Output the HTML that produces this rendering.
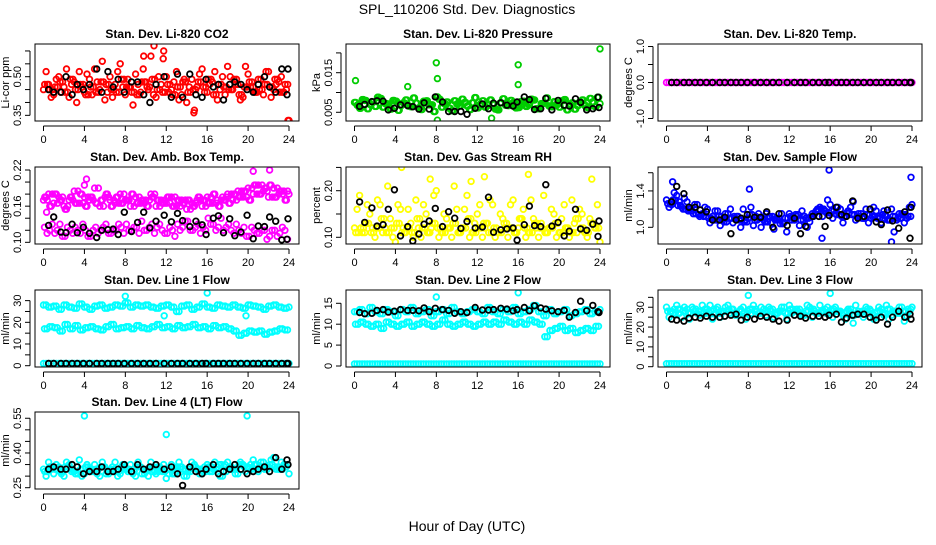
<!DOCTYPE html>
<html><head><meta charset="utf-8"><style>
html,body{margin:0;padding:0;background:#fff;}
svg text{font-family:"Liberation Sans",Arial,sans-serif;}
</style></head><body>
<svg id="chart" width="936" height="540" xmlns="http://www.w3.org/2000/svg">
<rect width="936" height="540" fill="#fff"/>
<text x="467" y="14" text-anchor="middle" font-size="14">SPL_110206  Std. Dev. Diagnostics</text>
<text x="467" y="531" text-anchor="middle" font-size="14">Hour of Day (UTC)</text>
</svg>
<script>
const blackHours=[0.5,1.0,1.7,2.2,2.8,3.3,3.9,4.5,5.2,5.7,6.3,6.8,7.3,7.9,8.6,9.2,9.8,10.4,11.0,11.8,12.5,13.1,13.6,14.3,14.9,15.5,15.9,16.6,17.1,17.6,18.2,18.7,19.3,19.9,20.5,21.0,21.6,22.1,22.7,23.3,23.8,23.9];
const xTicks=[0,4,8,12,16,20,24];
const co2A=[0.45,0.47,0.43,0.50,0.46,0.42,0.48,0.52,0.44,0.49,0.53,0.45,0.41,0.50,0.47,0.55,0.43,0.46,0.51,0.44,0.48,0.58,0.42,0.47,0.50,0.45,0.52,0.43,0.40,0.49,0.46,0.53,0.44,0.48,0.41,0.50,0.54,0.45,0.47,0.42,0.51,0.46,0.49,0.43,0.52,0.45,0.48,0.44,0.33];
const co2B=[0.52,0.42,0.49,0.44,0.53,0.47,0.40,0.46,0.51,0.43,0.48,0.56,0.44,0.42,0.52,0.46,0.49,0.39,0.47,0.53,0.45,0.43,0.50,0.60,0.44,0.48,0.41,0.49,0.46,0.37,0.51,0.44,0.47,0.52,0.45,0.43,0.50,0.47,0.41,0.54,0.46,0.44,0.49,0.52,0.42,0.47,0.50,0.45,0.47];
const co2C=[0.47,0.45,0.46,0.48,0.44,0.49,0.45,0.47,0.43,0.46,0.44,0.48,0.47,0.45,0.44,0.49,0.46,0.44,0.43,0.48,0.46,0.49,0.45,0.44,0.47,0.43,0.46,0.48,0.44,0.45,0.48,0.46,0.49,0.43,0.47,0.46,0.45,0.49,0.43,0.46,0.48,0.44,0.45,0.47,0.46,0.49,0.44,0.47,0.45];
const co2OutH=[9.8,10.8,11.7,14.7,23.9];
const co2Out=[0.58,0.62,0.57,0.36,0.33];
const co2K=[0.45,0.44,0.44,0.50,0.43,0.47,0.45,0.47,0.53,0.44,0.52,0.46,0.49,0.44,0.48,0.48,0.43,0.40,0.47,0.50,0.42,0.51,0.42,0.51,0.43,0.42,0.49,0.46,0.47,0.41,0.47,0.48,0.47,0.45,0.44,0.47,0.50,0.46,0.44,0.53,0.43,0.53];
const pA=[0.0075,0.006,0.008,0.007,0.0065,0.0085,0.0072,0.0058,0.0078,0.0068,0.0081,0.0064,0.0073,0.0057,0.0079,0.0069,0.0089,0.0063,0.0076,0.0054,0.0071,0.0083,0.0066,0.0074,0.0061,0.0079,0.0068,0.0072,0.0056,0.0084,0.0067,0.0075,0.0062,0.0078,0.0069,0.0081,0.0059,0.0073,0.0066,0.0077,0.0063,0.0082,0.0070,0.0058,0.0076,0.0067,0.0085,0.0064,0.0072];
const pB=[0.0068,0.0082,0.0059,0.0076,0.0088,0.0063,0.0071,0.0080,0.0055,0.0074,0.0066,0.0086,0.0061,0.0078,0.0069,0.0052,0.0083,0.0072,0.0060,0.0079,0.0066,0.0075,0.0057,0.0087,0.0070,0.0063,0.0081,0.0058,0.0074,0.0068,0.0080,0.0061,0.0077,0.0065,0.0083,0.0059,0.0072,0.0086,0.0064,0.0070,0.0079,0.0056,0.0074,0.0067,0.0081,0.0062,0.0076,0.0088,0.0069];
const pOutH=[0.1,5.2,8.0,8.1,8.1,16.0,16.0,24.0,13.4];
const pOut=[0.0130,0.0115,0.0175,0.0135,0.003,0.0170,0.0120,0.0210,0.0035];
const pK=[0.0065,0.0070,0.0077,0.0079,0.0078,0.0056,0.0060,0.0069,0.0067,0.0064,0.0058,0.0074,0.0058,0.0089,0.0076,0.0052,0.0052,0.0052,0.0045,0.0060,0.0071,0.0059,0.0073,0.0074,0.0068,0.0066,0.0076,0.0089,0.0082,0.0057,0.0059,0.0085,0.0056,0.0080,0.0068,0.0066,0.0084,0.0075,0.0056,0.0059,0.0088,0.0062];
const tA=[0,0,0,0,0,0,0,0,0,0,0,0,0,0,0,0,0,0,0,0,0,0,0,0,0,0,0,0,0,0,0,0,0,0,0,0,0,0,0,0,0,0,0,0,0,0,0,0,0];
const tK=[0,0,0,0,0,0,0,0,0,0,0,0,0,0,0,0,0,0,0,0,0,0,0,0,0,0,0,0,0,0,0,0,0,0,0,0,0,0,0,0,0,0];
const ambU=[0.17,0.18,0.165,0.175,0.16,0.17,0.185,0.165,0.175,0.17,0.19,0.16,0.175,0.17,0.165,0.18,0.17,0.16,0.175,0.165,0.17,0.18,0.16,0.17,0.165,0.175,0.16,0.17,0.155,0.165,0.17,0.16,0.175,0.165,0.17,0.175,0.18,0.17,0.185,0.175,0.19,0.18,0.195,0.185,0.175,0.19,0.18,0.185,0.18];
const ambU2=[0.175,0.16,0.18,0.17,0.155,0.175,0.165,0.18,0.16,0.175,0.165,0.17,0.18,0.16,0.175,0.165,0.17,0.18,0.165,0.17,0.16,0.175,0.17,0.165,0.175,0.16,0.17,0.165,0.17,0.16,0.175,0.17,0.165,0.18,0.16,0.17,0.165,0.18,0.175,0.185,0.17,0.195,0.18,0.19,0.195,0.175,0.185,0.17,0.19];
const ambL=[0.125,0.12,0.115,0.13,0.11,0.12,0.125,0.115,0.12,0.11,0.125,0.12,0.13,0.115,0.12,0.125,0.13,0.12,0.125,0.135,0.12,0.13,0.125,0.12,0.115,0.12,0.13,0.125,0.135,0.12,0.13,0.125,0.14,0.13,0.125,0.12,0.13,0.115,0.12,0.125,0.11,0.12,0.115,0.12,0.11,0.12,0.115,0.12,0.115];
const ambL2=[0.115,0.13,0.12,0.11,0.125,0.115,0.12,0.13,0.11,0.12,0.115,0.125,0.115,0.12,0.13,0.115,0.12,0.125,0.115,0.12,0.125,0.115,0.13,0.115,0.125,0.11,0.12,0.135,0.12,0.125,0.115,0.12,0.13,0.12,0.14,0.125,0.12,0.13,0.115,0.11,0.125,0.115,0.12,0.105,0.12,0.11,0.125,0.105,0.12];
const ambOutH=[4.2,20.5,22.1,4.0,0.3];
const ambOut=[0.205,0.218,0.22,0.195,0.15];
const ambK=[0.128,0.142,0.117,0.116,0.130,0.116,0.125,0.115,0.108,0.120,0.121,0.122,0.113,0.150,0.118,0.133,0.150,0.124,0.135,0.145,0.134,0.148,0.136,0.126,0.135,0.129,0.113,0.140,0.144,0.116,0.139,0.111,0.117,0.145,0.106,0.127,0.126,0.142,0.135,0.104,0.105,0.139];
const rhA=[0.12,0.19,0.11,0.15,0.10,0.17,0.12,0.14,0.09,0.16,0.11,0.13,0.18,0.10,0.15,0.12,0.20,0.11,0.14,0.10,0.16,0.12,0.19,0.11,0.15,0.10,0.13,0.17,0.11,0.14,0.10,0.18,0.12,0.16,0.11,0.14,0.10,0.19,0.12,0.15,0.11,0.17,0.10,0.13,0.16,0.11,0.14,0.12,0.09];
const rhB=[0.16,0.11,0.17,0.12,0.18,0.11,0.21,0.10,0.17,0.12,0.16,0.10,0.12,0.17,0.11,0.19,0.10,0.15,0.12,0.21,0.11,0.16,0.10,0.13,0.17,0.12,0.18,0.10,0.15,0.12,0.17,0.11,0.14,0.10,0.18,0.12,0.13,0.11,0.16,0.10,0.14,0.12,0.18,0.11,0.15,0.10,0.13,0.17,0.11];
const rhC=[0.11,0.12,0.13,0.11,0.12,0.14,0.11,0.12,0.13,0.11,0.12,0.11,0.14,0.12,0.11,0.13,0.12,0.11,0.12,0.13,0.11,0.12,0.14,0.11,0.12,0.13,0.11,0.12,0.11,0.13,0.12,0.11,0.14,0.12,0.11,0.13,0.12,0.11,0.12,0.13,0.11,0.12,0.11,0.14,0.12,0.11,0.13,0.12,0.11];
const rhOutH=[4.6,12.7,17.0,23.2,11.4,7.4];
const rhOut=[0.25,0.23,0.235,0.225,0.22,0.225];
const rhK=[0.176,0.132,0.163,0.124,0.127,0.160,0.202,0.103,0.123,0.092,0.107,0.128,0.135,0.162,0.123,0.155,0.141,0.119,0.134,0.120,0.122,0.186,0.111,0.116,0.118,0.120,0.094,0.127,0.167,0.125,0.123,0.213,0.124,0.132,0.103,0.113,0.160,0.118,0.115,0.128,0.102,0.135];
const sfA=[1.30,1.25,1.35,1.22,1.28,1.18,1.25,1.15,1.20,1.12,1.18,1.08,1.15,1.05,1.12,1.20,1.10,1.02,1.15,1.08,1.12,0.98,1.10,1.05,1.15,1.08,1.02,1.12,1.06,1.15,1.22,1.18,1.25,1.15,1.20,1.12,1.22,1.08,1.15,1.20,1.10,1.18,1.05,1.12,1.20,1.08,1.15,1.10,1.25];
const sfB=[1.22,1.38,1.28,1.32,1.20,1.25,1.12,1.22,1.05,1.18,1.02,1.15,1.20,1.10,1.00,1.08,1.22,1.12,1.00,1.15,1.05,1.10,1.15,0.95,1.08,1.12,1.18,1.00,1.15,1.20,1.12,1.30,1.10,1.22,1.05,1.18,1.28,1.15,1.10,1.05,1.22,1.12,1.18,1.08,0.95,1.15,1.05,1.22,1.08];
const sfC=[1.26,1.30,1.24,1.20,1.18,1.15,1.14,1.12,1.10,1.08,1.12,1.06,1.10,1.12,1.08,1.06,1.14,1.08,1.10,1.06,1.12,1.08,1.04,1.10,1.12,1.14,1.08,1.10,1.12,1.18,1.20,1.16,1.18,1.14,1.12,1.16,1.14,1.12,1.10,1.14,1.12,1.10,1.14,1.08,1.12,1.10,1.14,1.12,1.16];
const sfOutH=[15.9,23.9,8.1,0.6,22.0,15.2];
const sfOut=[1.63,1.55,1.42,1.50,0.84,0.88];
const sfK=[1.28,1.45,1.37,1.22,1.22,1.19,1.17,1.08,1.08,1.11,0.93,1.08,1.10,1.14,1.11,1.11,1.17,1.00,1.15,1.02,1.10,0.93,1.01,1.12,1.12,1.01,1.13,1.22,1.14,1.12,1.29,1.10,1.12,1.20,1.06,1.03,1.19,1.07,0.99,1.17,0.88,1.22];
const l1U=[28,27,27.5,26,28,27,26.5,28.5,27,26,27.5,28,26.5,27,28,27.5,29,27,28,27.5,28,27,26.5,27.5,28,27,25,27.5,28,26,27,28.5,27,26.5,28,27.5,27,28,27,26.5,28,27.5,27,26,27.5,28,27,26.5,27];
const l1M=[17,18,17.5,16,19,17,18.5,16.5,17.5,18,17,16.5,18,19,17,17.5,18,17,18.5,17.5,17,18,19,17.5,18,17,18.5,17.5,18,19,17.5,18,17,18.5,17.5,18,17,16,14,15,16,15.5,16,14.5,15.5,16,17,16.5,18];
const l1OutH=[8.0,16.0,19.8,11.8];
const l1Out=[32,33.5,23,23];
const l1Z=[1,1,1,1,1,1,1,1,1,1,1,1,1,1,1,1,1,1,1,1,1,1,1,1,1,1,1,1,1,1,1,1,1,1,1,1,1,1,1,1,1,1,1,1,1,1,1,1,1];
const l1K=[1,1,1,1,1,1,1,1,1,1,1,1,1,1,1,1,1,1,1,1,1,1,1,1,1,1,1,1,1,1,1,1,1,1,1,1,1,1,1,1,1,1];
const l2U=[13,13.5,12.5,14,13,12.5,13.5,13,12,13.5,13,14,12.5,13,13.5,12,13,13.5,12.5,14,13,12.5,13,13.5,13,12.5,14,13,12.5,13.5,13,14,12.5,13,13.5,14.5,13,12,13.5,12.5,13,13.5,12,12.5,13,13.5,12.5,13,13.5];
const l2M=[10,10.5,10,9.5,10,9,10.5,10,9.5,10,10.5,9.5,10,10.5,10,9.5,10,11,10,9.5,10,10.5,10,9.5,10,10.5,10,10.5,10,11,10.5,10,10.5,10,11,10.5,10,7,8.5,9,9.5,8.5,9,8,8.5,9,8.5,9.5,10];
const l2OutH=[8.0,16.0];
const l2Out=[16.5,17.5];
const l2Z=[0.5,0.5,0.5,0.5,0.5,0.5,0.5,0.5,0.5,0.5,0.5,0.5,0.5,0.5,0.5,0.5,0.5,0.5,0.5,0.5,0.5,0.5,0.5,0.5,0.5,0.5,0.5,0.5,0.5,0.5,0.5,0.5,0.5,0.5,0.5,0.5,0.5,0.5,0.5,0.5,0.5,0.5,0.5,0.5,0.5,0.5,0.5,0.5,0.5];
const l2K=[12.8,12.5,12.6,13.3,13.5,12.9,13.1,13.5,13.3,13.3,13.2,13.9,13.0,13.8,13.5,13.3,12.6,13.0,12.8,14.0,13.4,13.4,13.5,13.8,13.6,13.2,13.5,14.0,13.2,14.4,13.9,13.6,13.2,13.0,13.3,11.7,12.8,15.5,13.2,14.5,13.0,12.8];
const l3A=[30,28,31,25,29,30,27,31,29,24,30,28,31,29,26,30,28,31,27,29,30,25,28,30,31,28,29,26,30,28,31,29,27,30,28,24,29,31,27,30,28,25,29,31,26,28,30,25,30];
const l3B=[25,29,27,30,24,28,26,29,31,27,25,30,27,26,29,24,27,29,30,26,28,27,30,24,27,29,26,31,25,27,28,30,25,28,26,29,22,28,25,27,24,30,26,24,28,30,23,28,26];
const l3C=[28,27,29,28,27,29,28,27,28,29,27,28,29,27,28,27,29,28,27,28,29,27,28,27,29,28,27,28,29,27,28,27,29,28,27,28,26,27,28,29,27,28,27,29,28,27,28,29,27];
const l3OutH=[8.0,16.0];
const l3Out=[36,37];
const l3Z=[1.5,1.5,1.5,1.5,1.5,1.5,1.5,1.5,1.5,1.5,1.5,1.5,1.5,1.5,1.5,1.5,1.5,1.5,1.5,1.5,1.5,1.5,1.5,1.5,1.5,1.5,1.5,1.5,1.5,1.5,1.5,1.5,1.5,1.5,1.5,1.5,1.5,1.5,1.5,1.5,1.5,1.5,1.5,1.5,1.5,1.5,1.5,1.5,1.5];
const l3K=[24,23.5,23,24.5,25,24.5,25.5,25,25,25.5,26,26.5,23.5,25,24,25.5,25,24,23,23.5,26,25.5,24.5,25.5,25.5,25,26,26.5,22.5,24.5,26,26.5,26.5,25,23.5,25,21.5,25,28,25,26.5,24];
const l4A=[0.33,0.36,0.31,0.34,0.30,0.35,0.32,0.37,0.31,0.33,0.35,0.30,0.34,0.32,0.36,0.31,0.33,0.35,0.30,0.34,0.32,0.36,0.31,0.33,0.29,0.35,0.32,0.34,0.30,0.36,0.33,0.31,0.35,0.32,0.34,0.30,0.36,0.33,0.31,0.35,0.34,0.37,0.32,0.36,0.34,0.38,0.33,0.35,0.31];
const l4B=[0.30,0.33,0.35,0.31,0.36,0.32,0.34,0.30,0.35,0.33,0.31,0.36,0.32,0.34,0.30,0.35,0.32,0.31,0.36,0.33,0.30,0.34,0.32,0.35,0.31,0.34,0.36,0.30,0.33,0.35,0.31,0.34,0.32,0.36,0.30,0.35,0.33,0.31,0.36,0.32,0.35,0.33,0.36,0.34,0.37,0.33,0.36,0.34,0.32];
const l4C=[0.32,0.34,0.33,0.32,0.34,0.33,0.31,0.33,0.34,0.32,0.33,0.34,0.31,0.33,0.32,0.34,0.33,0.32,0.34,0.31,0.33,0.32,0.34,0.32,0.33,0.31,0.34,0.33,0.32,0.34,0.33,0.32,0.34,0.33,0.35,0.32,0.34,0.33,0.35,0.34,0.33,0.35,0.34,0.33,0.35,0.34,0.33,0.35,0.33];
const l4OutH=[4.0,12.0,19.9];
const l4Out=[0.56,0.48,0.56];
const l4K=[0.33,0.34,0.33,0.33,0.35,0.34,0.31,0.32,0.32,0.34,0.32,0.32,0.33,0.35,0.32,0.35,0.33,0.34,0.35,0.33,0.34,0.31,0.26,0.34,0.32,0.31,0.33,0.35,0.31,0.32,0.33,0.35,0.33,0.31,0.32,0.33,0.34,0.32,0.38,0.33,0.37,0.35];

const NS='http://www.w3.org/2000/svg';
const svg=document.getElementById('chart');
const colL=[35,346,658], rowT=[44,167,290,412], W=264, H=77;
function mk(tag,attrs,parent){const e=document.createElementNS(NS,tag);for(const k in attrs)e.setAttribute(k,attrs[k]);(parent||svg).appendChild(e);return e;}
function halfHours(n,off){const h=[];for(let i=0;i<n;i++)h.push(i*0.5+off);return h;}

const panels=[
 {name:'co2',title:'Stan. Dev. Li-820 CO2',ylab:'Li-cor ppm',c:0,r:0,ymin:0.328,ymax:0.627,yt:[0.35,0.40,0.45,0.50,0.55,0.60],yl:['0.35','','','0.50','',''],col:'#ff0000',
  series:[[co2A,0],[co2B,0.25],[co2C,0.12],[co2C,0.37]],out:[co2OutH,co2Out],black:co2K},
 {name:'pressure',title:'Stan. Dev. Li-820 Pressure',ylab:'kPa',c:1,r:0,ymin:0.0028,ymax:0.02225,yt:[0.005,0.010,0.015,0.020],yl:['0.005','','0.015',''],col:'#00cc00',
  series:[[pA,0],[pB,0.25],[pA,0.12],[pB,0.37]],out:[pOutH,pOut],black:pK},
 {name:'temp',title:'Stan. Dev. Li-820 Temp.',ylab:'degrees C',c:2,r:0,ymin:-1.07,ymax:1.07,yt:[-1,-0.5,0,0.5,1],yl:['-1.0','','0.0','','1.0'],col:'#ff00ff',
  series:[[tA,0],[tA,0.25]],out:[[],[]],black:tK},
 {name:'amb-box-temp',title:'Stan. Dev. Amb. Box Temp.',ylab:'degrees C',c:0,r:1,ymin:0.0972,ymax:0.225,yt:[0.10,0.12,0.14,0.16,0.18,0.20,0.22],yl:['0.10','','','0.16','','','0.22'],col:'#ff00ff',
  series:[[ambU,0],[ambU2,0.25],[ambL,0.1],[ambL2,0.35],[ambU2,0.12],[ambU,0.37]],out:[ambOutH,ambOut],black:ambK},
 {name:'gas-stream-rh',title:'Stan. Dev. Gas Stream RH',ylab:'percent',c:1,r:1,ymin:0.0856,ymax:0.2509,yt:[0.10,0.15,0.20,0.25],yl:['0.10','','0.20',''],col:'#ffff00',
  series:[[rhA,0],[rhB,0.25],[rhC,0.12],[rhC,0.37]],out:[rhOutH,rhOut],black:rhK},
 {name:'sample-flow',title:'Stan. Dev. Sample Flow',ylab:'ml/min',c:2,r:1,ymin:0.8165,ymax:1.663,yt:[1.0,1.2,1.4,1.6],yl:['1.0','','1.4',''],col:'#0000ff',
  series:[[sfA,0],[sfB,0.25],[sfC,0.12],[sfC,0.37]],out:[sfOutH,sfOut],black:sfK},
 {name:'line1-flow',title:'Stan. Dev. Line 1 Flow',ylab:'ml/min',c:0,r:2,ymin:-0.6,ymax:34.9,yt:[0,5,10,15,20,25,30],yl:['0','','10','','20','','30'],col:'#00ffff',
  series:[[l1U,0],[l1U,0.25],[l1M,0.1],[l1M,0.35],[l1Z,0],[l1Z,0.25]],out:[l1OutH,l1Out],black:l1K},
 {name:'line2-flow',title:'Stan. Dev. Line 2 Flow',ylab:'ml/min',c:1,r:2,ymin:-0.24,ymax:18.18,yt:[0,5,10,15],yl:['0','5','10','15'],col:'#00ffff',
  series:[[l2U,0],[l2U,0.25],[l2M,0.1],[l2M,0.35],[l2Z,0],[l2Z,0.25]],out:[l2OutH,l2Out],black:l2K},
 {name:'line3-flow',title:'Stan. Dev. Line 3 Flow',ylab:'ml/min',c:2,r:2,ymin:-0.15,ymax:38.7,yt:[0,5,10,15,20,25,30,35],yl:['0','','10','','20','','30',''],col:'#00ffff',
  series:[[l3A,0],[l3B,0.25],[l3C,0.12],[l3C,0.37],[l3Z,0],[l3Z,0.25]],out:[l3OutH,l3Out],black:l3K},
 {name:'line4-flow',title:'Stan. Dev. Line 4 (LT) Flow',ylab:'ml/min',c:0,r:3,ymin:0.2444,ymax:0.577,yt:[0.25,0.30,0.35,0.40,0.45,0.50,0.55],yl:['0.25','','','0.40','','','0.55'],col:'#00ffff',
  series:[[l4A,0],[l4B,0.25],[l4C,0.12],[l4C,0.37]],out:[l4OutH,l4Out],black:l4K}
];

panels.forEach(p=>{
  const L=colL[p.c], T=rowT[p.r], B=T+H;
  const x0=L+8.5, x24=L+254;
  const xs=h=>x0+(x24-x0)*h/24;
  const ys=v=>B-(v-p.ymin)/(p.ymax-p.ymin)*H;
  const g=mk('g',{});
  
  
  const clip=mk('clipPath',{id:'clip-'+p.name},g);
  mk('rect',{x:L,y:T,width:W,height:H},clip);
  const pts=mk('g',{'clip-path':'url(#clip-'+p.name+')'},g);
  function dot(h,v,col,nm){
    const c=mk('circle',{cx:xs(h).toFixed(1),cy:ys(v).toFixed(1),r:2.8,fill:'none',stroke:col,'stroke-width':1.8},pts);
    
    
  }
  p.series.forEach(([vals,off])=>{const hs=halfHours(vals.length,off);vals.forEach((v,i)=>{if(hs[i]<=24.05)dot(hs[i],v,p.col,p.name+'-point');});});
  p.out[0].forEach((h,i)=>dot(h,p.out[1][i],p.col,p.name+'-outlier'));
  p.black.forEach((v,i)=>{if(i<blackHours.length)dot(blackHours[i],v,'#000',p.name+'-hourly-point');});
  const box=mk('rect',{x:L,y:T,width:W,height:H,fill:'none',stroke:'#000','stroke-width':1},g);
  
  
  mk('line',{x1:xs(0),y1:B+5,x2:xs(24),y2:B+5,stroke:'#000'},g);
  xTicks.forEach(t=>{
    mk('line',{x1:xs(t),y1:B+5,x2:xs(t),y2:B+10,stroke:'#000'},g);
    const tx=mk('text',{x:xs(t),y:B+22,'text-anchor':'middle','font-size':11},g);
    tx.textContent=t;
    
    
  });
  const yA=p.yt[0], yZ=p.yt[p.yt.length-1];
  mk('line',{x1:L-5,y1:ys(yA),x2:L-5,y2:ys(yZ),stroke:'#000'},g);
  p.yt.forEach((t,i)=>{
    mk('line',{x1:L-5,y1:ys(t),x2:L-10,y2:ys(t),stroke:'#000'},g);
    if(p.yl[i]){
      const yy=ys(t);
      const tx=mk('text',{x:L-14,y:yy,'text-anchor':'middle','font-size':11,transform:'rotate(-90 '+(L-14)+' '+yy+')'},g);
      tx.textContent=p.yl[i];
      
      
    }
  });
  const my=T+H/2;
  const yl=mk('text',{x:L-26,y:my,'text-anchor':'middle','font-size':11,transform:'rotate(-90 '+(L-26)+' '+my+')'},g);
  yl.textContent=p.ylab;
  
  
  const ti=mk('text',{x:L+W/2,y:T-6,'text-anchor':'middle','font-size':12,'font-weight':'bold'},g);
  ti.textContent=p.title;
  
  
});
</script>
</body></html>
